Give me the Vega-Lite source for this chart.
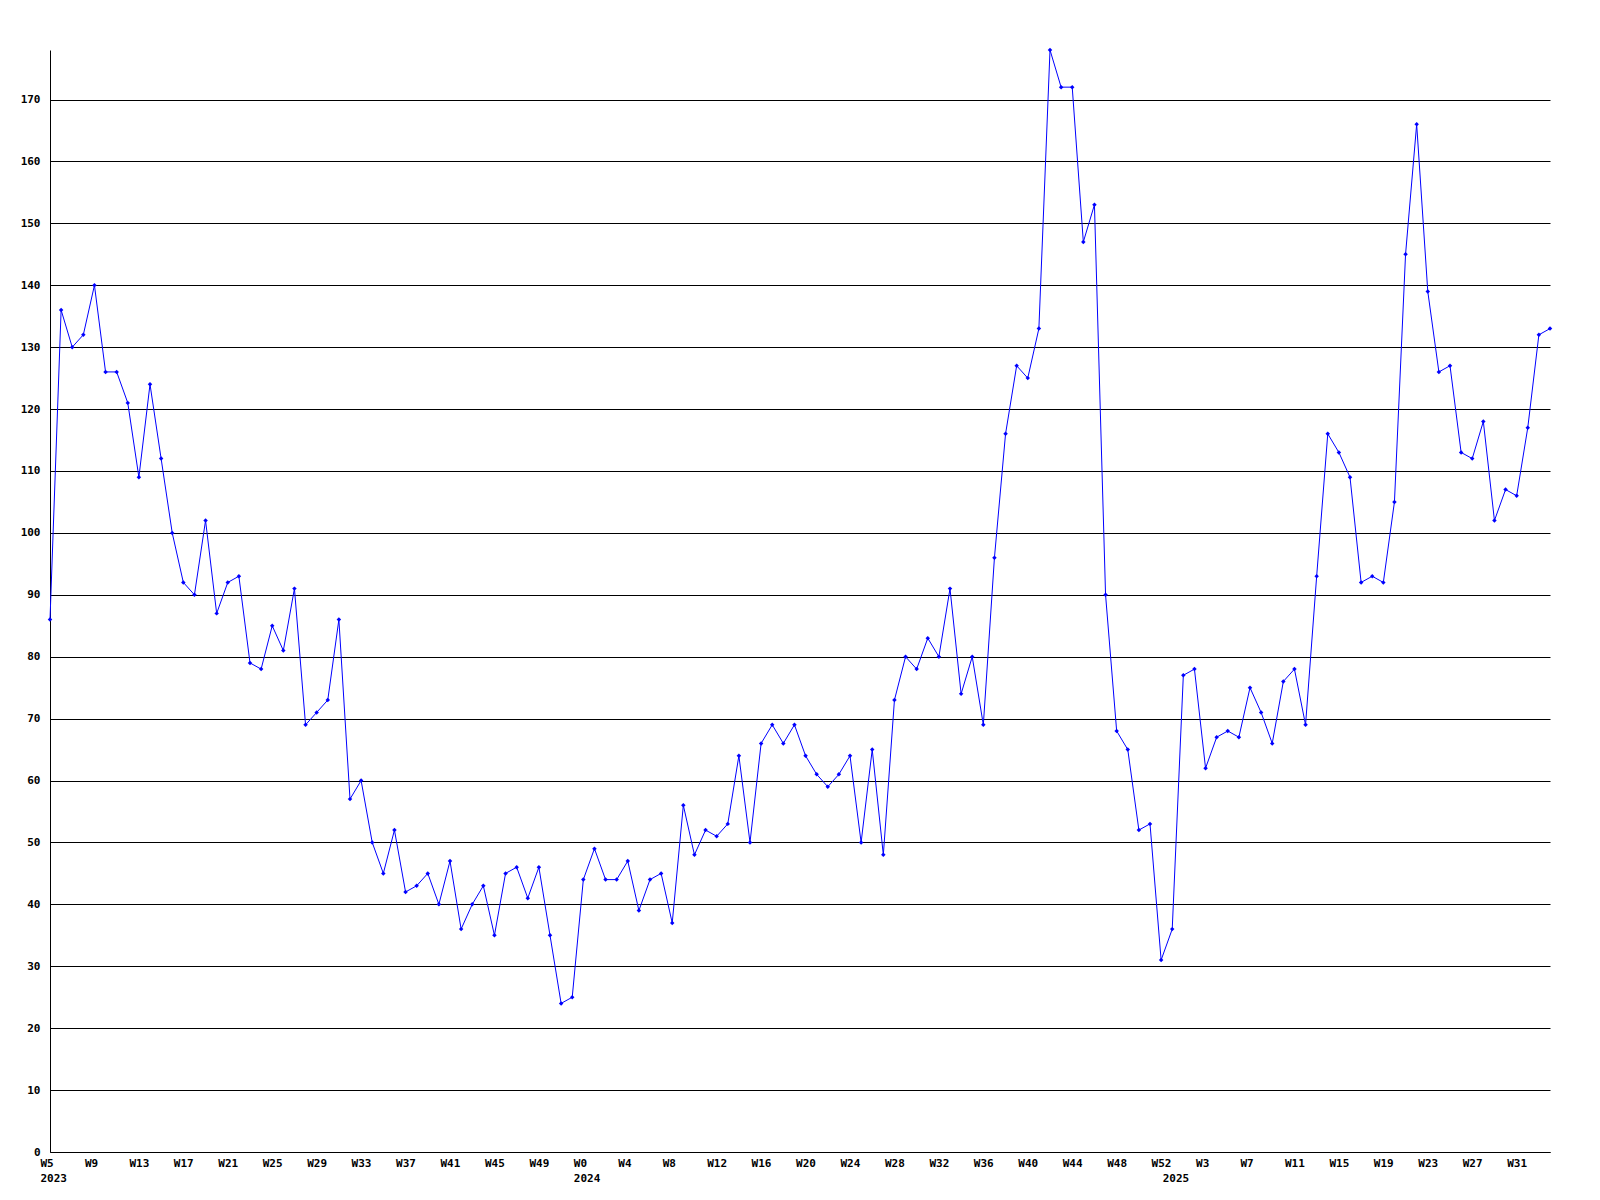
{
  "$schema": "https://vega.github.io/schema/vega-lite/v6.json",
  "width": 1500,
  "height": 1102,
  "autosize": "none",
  "padding": {"left": 50, "top": 50, "right": 50, "bottom": 48},
  "background": "white",
  "config": {"view": {"stroke": null}},
  "data": {"values": [
    {"i":0,"year":2023,"week":5,"value":86},
    {"i":1,"year":2023,"week":6,"value":136},
    {"i":2,"year":2023,"week":7,"value":130},
    {"i":3,"year":2023,"week":8,"value":132},
    {"i":4,"year":2023,"week":9,"value":140},
    {"i":5,"year":2023,"week":10,"value":126},
    {"i":6,"year":2023,"week":11,"value":126},
    {"i":7,"year":2023,"week":12,"value":121},
    {"i":8,"year":2023,"week":13,"value":109},
    {"i":9,"year":2023,"week":14,"value":124},
    {"i":10,"year":2023,"week":15,"value":112},
    {"i":11,"year":2023,"week":16,"value":100},
    {"i":12,"year":2023,"week":17,"value":92},
    {"i":13,"year":2023,"week":18,"value":90},
    {"i":14,"year":2023,"week":19,"value":102},
    {"i":15,"year":2023,"week":20,"value":87},
    {"i":16,"year":2023,"week":21,"value":92},
    {"i":17,"year":2023,"week":22,"value":93},
    {"i":18,"year":2023,"week":23,"value":79},
    {"i":19,"year":2023,"week":24,"value":78},
    {"i":20,"year":2023,"week":25,"value":85},
    {"i":21,"year":2023,"week":26,"value":81},
    {"i":22,"year":2023,"week":27,"value":91},
    {"i":23,"year":2023,"week":28,"value":69},
    {"i":24,"year":2023,"week":29,"value":71},
    {"i":25,"year":2023,"week":30,"value":73},
    {"i":26,"year":2023,"week":31,"value":86},
    {"i":27,"year":2023,"week":32,"value":57},
    {"i":28,"year":2023,"week":33,"value":60},
    {"i":29,"year":2023,"week":34,"value":50},
    {"i":30,"year":2023,"week":35,"value":45},
    {"i":31,"year":2023,"week":36,"value":52},
    {"i":32,"year":2023,"week":37,"value":42},
    {"i":33,"year":2023,"week":38,"value":43},
    {"i":34,"year":2023,"week":39,"value":45},
    {"i":35,"year":2023,"week":40,"value":40},
    {"i":36,"year":2023,"week":41,"value":47},
    {"i":37,"year":2023,"week":42,"value":36},
    {"i":38,"year":2023,"week":43,"value":40},
    {"i":39,"year":2023,"week":44,"value":43},
    {"i":40,"year":2023,"week":45,"value":35},
    {"i":41,"year":2023,"week":46,"value":45},
    {"i":42,"year":2023,"week":47,"value":46},
    {"i":43,"year":2023,"week":48,"value":41},
    {"i":44,"year":2023,"week":49,"value":46},
    {"i":45,"year":2023,"week":50,"value":35},
    {"i":46,"year":2023,"week":51,"value":24},
    {"i":47,"year":2023,"week":52,"value":25},
    {"i":48,"year":2024,"week":0,"value":44},
    {"i":49,"year":2024,"week":1,"value":49},
    {"i":50,"year":2024,"week":2,"value":44},
    {"i":51,"year":2024,"week":3,"value":44},
    {"i":52,"year":2024,"week":4,"value":47},
    {"i":53,"year":2024,"week":5,"value":39},
    {"i":54,"year":2024,"week":6,"value":44},
    {"i":55,"year":2024,"week":7,"value":45},
    {"i":56,"year":2024,"week":8,"value":37},
    {"i":57,"year":2024,"week":9,"value":56},
    {"i":58,"year":2024,"week":10,"value":48},
    {"i":59,"year":2024,"week":11,"value":52},
    {"i":60,"year":2024,"week":12,"value":51},
    {"i":61,"year":2024,"week":13,"value":53},
    {"i":62,"year":2024,"week":14,"value":64},
    {"i":63,"year":2024,"week":15,"value":50},
    {"i":64,"year":2024,"week":16,"value":66},
    {"i":65,"year":2024,"week":17,"value":69},
    {"i":66,"year":2024,"week":18,"value":66},
    {"i":67,"year":2024,"week":19,"value":69},
    {"i":68,"year":2024,"week":20,"value":64},
    {"i":69,"year":2024,"week":21,"value":61},
    {"i":70,"year":2024,"week":22,"value":59},
    {"i":71,"year":2024,"week":23,"value":61},
    {"i":72,"year":2024,"week":24,"value":64},
    {"i":73,"year":2024,"week":25,"value":50},
    {"i":74,"year":2024,"week":26,"value":65},
    {"i":75,"year":2024,"week":27,"value":48},
    {"i":76,"year":2024,"week":28,"value":73},
    {"i":77,"year":2024,"week":29,"value":80},
    {"i":78,"year":2024,"week":30,"value":78},
    {"i":79,"year":2024,"week":31,"value":83},
    {"i":80,"year":2024,"week":32,"value":80},
    {"i":81,"year":2024,"week":33,"value":91},
    {"i":82,"year":2024,"week":34,"value":74},
    {"i":83,"year":2024,"week":35,"value":80},
    {"i":84,"year":2024,"week":36,"value":69},
    {"i":85,"year":2024,"week":37,"value":96},
    {"i":86,"year":2024,"week":38,"value":116},
    {"i":87,"year":2024,"week":39,"value":127},
    {"i":88,"year":2024,"week":40,"value":125},
    {"i":89,"year":2024,"week":41,"value":133},
    {"i":90,"year":2024,"week":42,"value":178},
    {"i":91,"year":2024,"week":43,"value":172},
    {"i":92,"year":2024,"week":44,"value":172},
    {"i":93,"year":2024,"week":45,"value":147},
    {"i":94,"year":2024,"week":46,"value":153},
    {"i":95,"year":2024,"week":47,"value":90},
    {"i":96,"year":2024,"week":48,"value":68},
    {"i":97,"year":2024,"week":49,"value":65},
    {"i":98,"year":2024,"week":50,"value":52},
    {"i":99,"year":2024,"week":51,"value":53},
    {"i":100,"year":2024,"week":52,"value":31},
    {"i":101,"year":2025,"week":0,"value":36},
    {"i":102,"year":2025,"week":1,"value":77},
    {"i":103,"year":2025,"week":2,"value":78},
    {"i":104,"year":2025,"week":3,"value":62},
    {"i":105,"year":2025,"week":4,"value":67},
    {"i":106,"year":2025,"week":5,"value":68},
    {"i":107,"year":2025,"week":6,"value":67},
    {"i":108,"year":2025,"week":7,"value":75},
    {"i":109,"year":2025,"week":8,"value":71},
    {"i":110,"year":2025,"week":9,"value":66},
    {"i":111,"year":2025,"week":10,"value":76},
    {"i":112,"year":2025,"week":11,"value":78},
    {"i":113,"year":2025,"week":12,"value":69},
    {"i":114,"year":2025,"week":13,"value":93},
    {"i":115,"year":2025,"week":14,"value":116},
    {"i":116,"year":2025,"week":15,"value":113},
    {"i":117,"year":2025,"week":16,"value":109},
    {"i":118,"year":2025,"week":17,"value":92},
    {"i":119,"year":2025,"week":18,"value":93},
    {"i":120,"year":2025,"week":19,"value":92},
    {"i":121,"year":2025,"week":20,"value":105},
    {"i":122,"year":2025,"week":21,"value":145},
    {"i":123,"year":2025,"week":22,"value":166},
    {"i":124,"year":2025,"week":23,"value":139},
    {"i":125,"year":2025,"week":24,"value":126},
    {"i":126,"year":2025,"week":25,"value":127},
    {"i":127,"year":2025,"week":26,"value":113},
    {"i":128,"year":2025,"week":27,"value":112},
    {"i":129,"year":2025,"week":28,"value":118},
    {"i":130,"year":2025,"week":29,"value":102},
    {"i":131,"year":2025,"week":30,"value":107},
    {"i":132,"year":2025,"week":31,"value":106},
    {"i":133,"year":2025,"week":32,"value":117},
    {"i":134,"year":2025,"week":33,"value":132},
    {"i":135,"year":2025,"week":34,"value":133}
  ]},
  "encoding": {
    "x": {
      "field": "i",
      "type": "quantitative",
      "scale": {"domain": [0, 135], "nice": false, "zero": false},
      "axis": {
        "title": null,
        "values": [0,4,8,12,16,20,24,28,32,36,40,44,48,52,56,60,64,68,72,76,80,84,88,92,96,100,101,104,108,112,116,120,124,128,132],
        "grid": false,
        "ticks": false,
        "domainColor": "black",
        "domainWidth": 1,
        "labelAlign": "left",
        "labelOffset": -10,
        "labelPadding": 5,
        "labelFont": "DejaVu Sans Mono",
        "labelFontWeight": "bold",
        "labelFontSize": 11,
        "labelColor": "black",
        "labelLineHeight": 15,
        "labelFlush": false,
        "labelOverlap": false,
        "labelExpr": "datum.value < 48 ? (datum.value == 0 ? ['W5', '2023'] : 'W' + (datum.value + 5)) : (datum.value < 101 ? (datum.value == 48 ? ['W0', '2024'] : 'W' + (datum.value - 48)) : (datum.value == 101 ? ['', '2025'] : 'W' + (datum.value - 101)))"
      }
    },
    "y": {
      "field": "value",
      "type": "quantitative",
      "scale": {"domain": [0, 178], "nice": false},
      "axis": {
        "title": null,
        "values": [0,10,20,30,40,50,60,70,80,90,100,110,120,130,140,150,160,170],
        "grid": true,
        "gridColor": "black",
        "gridOpacity": 1,
        "gridWidth": 1,
        "ticks": false,
        "domainColor": "black",
        "domainWidth": 1,
        "labelPadding": 10,
        "labelFont": "DejaVu Sans Mono",
        "labelFontWeight": "bold",
        "labelFontSize": 11,
        "labelColor": "black",
        "labelFlush": false,
        "labelOverlap": false
      }
    }
  },
  "layer": [
    {"mark": {"type": "line", "color": "#0000ff", "strokeWidth": 1}},
    {"mark": {"type": "point", "shape": "diamond", "filled": true, "color": "#0000ff", "size": 20, "opacity": 1}}
  ]
}
